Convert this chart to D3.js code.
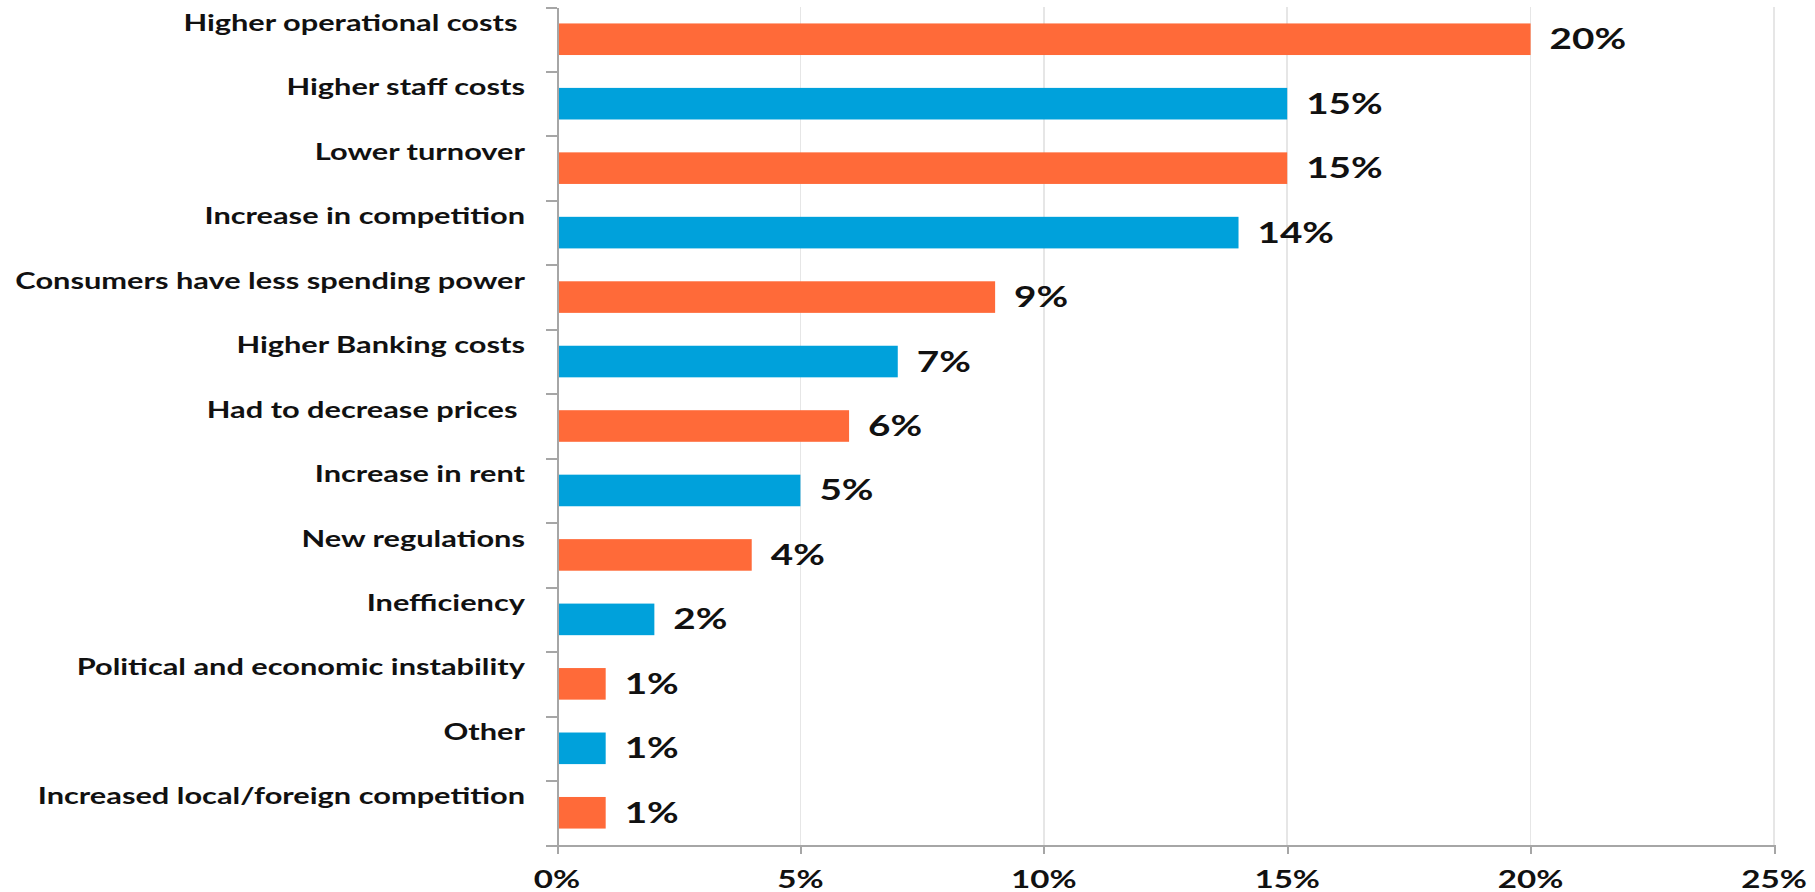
<!DOCTYPE html>
<html>
<head>
<meta charset="utf-8">
<title>Reasons for lower profitability</title>
<script src="https://cdn.jsdelivr.net/npm/d3@7"></script>
<style>
  html, body { margin: 0; padding: 0; background: #ffffff; }
  svg { display: block; }
  text { font-family: Lato, "Open Sans", sans-serif; font-weight: 700; fill: #111111; }
  .axis path, .axis line { stroke: #a6a6a6; stroke-width: 2; shape-rendering: crispEdges; }
  .grid line { stroke: #e6e6e6; stroke-width: 1.5; shape-rendering: crispEdges; }
</style>
</head>
<body>
<svg id="chart" width="1815" height="892"></svg>
<script>
// Survey answers, in the order they are listed (top to bottom)
const categories = [
  "Higher operational costs ",
  "Higher staff costs",
  "Lower turnover",
  "Increase in competition",
  "Consumers have less spending power",
  "Higher Banking costs",
  "Had to decrease prices ",
  "Increase in rent",
  "New regulations",
  "Inefficiency",
  "Political and economic instability",
  "Other",
  "Increased local/foreign competition"
];
// Share of respondents, in percent
const values = [20, 15, 15, 14, 9, 7, 6, 5, 4, 2, 1, 1, 1];
// Value-axis ticks, in percent
const xTicks = [0, 5, 10, 15, 20, 25];

const W = 1815, H = 892;
const plot = { left: 557, right: 1774, top: 7, bottom: 845 };
const barColors = ["#FF6A39", "#00A1DB"];
const textStretch = 1.38;   // wide, horizontally stretched lettering

const svg = d3.select("#chart");

const x = d3.scaleLinear().domain([0, 25]).range([plot.left, plot.right]);
const y = d3.scaleBand()
  .domain(d3.range(categories.length))
  .range([plot.top, plot.bottom])
  .paddingInner(0.51)
  .paddingOuter(0.255);
// category boundaries, for the tick marks between bars
const yEdge = d3.scaleLinear().domain([0, categories.length]).range([plot.top, plot.bottom]);

// vertical gridlines
svg.append("g").attr("class", "grid")
  .selectAll("line")
  .data(xTicks.filter(d => d > 0))
  .join("line")
  .attr("x1", d => x(d)).attr("x2", d => x(d))
  .attr("y1", plot.top).attr("y2", plot.bottom);

// bars
svg.append("g")
  .selectAll("rect")
  .data(values)
  .join("rect")
  .attr("x", x(0))
  .attr("y", (d, i) => y(i))
  .attr("width", d => x(d) - x(0))
  .attr("height", y.bandwidth())
  .attr("fill", (d, i) => barColors[i % 2]);

// x axis
const xAxis = svg.append("g").attr("class", "axis")
  .attr("transform", `translate(0,${plot.bottom})`)
  .call(d3.axisBottom(x).tickValues(xTicks).tickSize(9).tickSizeOuter(0).tickFormat(() => ""));
xAxis.selectAll(".tick text").remove();

// y axis with marks between categories
const yAxis = svg.append("g").attr("class", "axis")
  .attr("transform", `translate(${plot.left},0)`)
  .call(d3.axisLeft(yEdge).tickValues(d3.range(categories.length + 1)).tickSize(11).tickSizeOuter(0).tickFormat(() => ""));
yAxis.selectAll(".tick text").remove();

// helper: stretched text anchored at (px, py)
function stretchedText(sel, size, anchor) {
  return sel.append("text")
    .attr("transform", `scale(${textStretch},1)`)
    .attr("text-anchor", anchor)
    .attr("xml:space", "preserve")
    .style("white-space", "pre")
    .style("font-size", size + "px");
}

// category labels, set slightly above each bar
const catG = svg.append("g").selectAll("g")
  .data(categories)
  .join("g")
  .attr("transform", (d, i) => `translate(525,${y(i) + y.bandwidth() / 2 - 8.4})`);
catG.each(function (d) {
  stretchedText(d3.select(this), 22.3, "end").text(d);
});

// value labels at the end of each bar
const valG = svg.append("g").selectAll("g")
  .data(values)
  .join("g")
  .attr("transform", (d, i) => `translate(${x(d) + 19},${y(i) + y.bandwidth() / 2 + 10})`);
valG.each(function (d) {
  stretchedText(d3.select(this), 28, "start").text(d + "%");
});

// x tick labels
const tickG = svg.append("g").selectAll("g")
  .data(xTicks)
  .join("g")
  .attr("transform", d => `translate(${x(d)},888)`);
tickG.each(function (d) {
  stretchedText(d3.select(this), 24, "middle").text(d + "%");
});
</script>
</body>
</html>
